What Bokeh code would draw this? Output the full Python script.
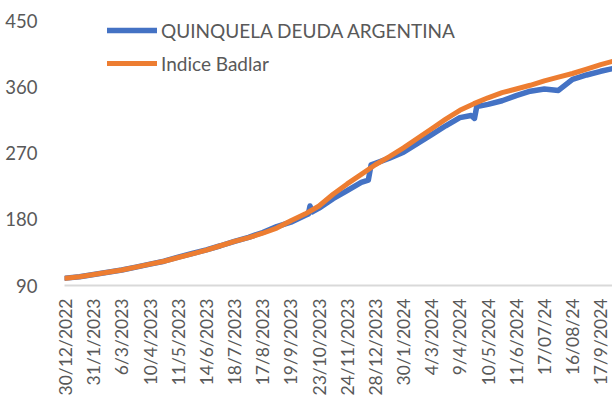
import math
from bokeh.plotting import figure
from bokeh.models import Range1d, FixedTicker, Legend, LegendItem
from bokeh.embed import file_html
from bokeh.resources import INLINE

# ---- data ----
tick_labels = ["30/12/2022", "31/1/2023", "6/3/2023", "10/4/2023", "11/5/2023",
               "14/6/2023", "18/7/2023", "17/8/2023", "19/9/2023", "23/10/2023",
               "24/11/2023", "28/12/2023", "30/1/2024", "4/3/2024", "9/4/2024",
               "10/5/2024", "11/6/2024", "17/07/24", "16/08/24", "17/9/2024"]
tick_pos = list(range(len(tick_labels)))

y_ticks = [90, 180, 270, 360, 450]

# position along the category axis, in label steps
badlar_x = [0, 0.5, 1, 1.5, 2, 2.5, 3, 3.5, 4, 4.5,
            5, 5.5, 6, 6.5, 7, 7.5, 8, 8.5, 9, 9.5,
            10, 10.5, 11, 11.5, 12, 12.5, 13, 13.5, 14, 14.5,
            15, 15.5, 16, 16.5, 17, 17.5, 18, 18.5, 19, 19.47]
badlar = [100, 102, 105, 108, 111, 115, 119, 123, 128, 133,
          138, 144, 150, 155, 161, 168, 178, 187, 198, 214,
          228, 241, 254, 265, 277, 290, 303, 316, 328, 337,
          345, 352, 357, 362, 368, 373, 378, 384, 390, 395]

quinq_x = [0, 0.5, 1, 1.5, 2, 2.5, 3, 3.5, 4, 4.5,
           5, 5.5, 6, 6.5, 7, 7.25, 7.5, 8, 8.5, 8.62,
           8.68, 8.76, 9, 9.5, 10, 10.5, 10.75, 10.85, 11, 11.5,
           12, 12.5, 13, 13.5, 14, 14.4, 14.52, 14.6, 15, 15.5,
           16, 16.5, 17, 17.5, 18, 18.5, 19, 19.47]
quinq = [100, 102, 105, 108, 111, 115, 119, 123, 128.5, 133.5,
         138.5, 144, 150, 155.5, 162, 166, 170, 176, 185, 187,
         198, 190, 195, 208, 219, 230, 233, 254, 256, 263,
         271, 283, 295, 307, 318, 321, 317, 333, 336, 341,
         348, 354, 357, 355, 370, 376, 381, 385]

FONT = "Lato"
TXT = "#595959"

p = figure(width=612, height=407, output_backend="svg", toolbar_location=None,
           x_range=Range1d(-0.036, 19.42), y_range=Range1d(90, 450),
           min_border_left=64, min_border_right=0, min_border_top=20,
           min_border_bottom=122)
p.outline_line_color = None
p.xgrid.visible = False
p.ygrid.visible = False
p.background_fill_color = "white"
p.border_fill_color = "white"

r1 = p.line(quinq_x, quinq, line_color="#4472C4", line_width=5.5,
            line_cap="round", line_join="round")
r2 = p.line(badlar_x, badlar, line_color="#ED7D31", line_width=5,
            line_cap="round", line_join="round")

xa = p.xaxis[0]
xa.ticker = FixedTicker(ticks=tick_pos)
xa.major_label_overrides = {i: lab for i, lab in zip(tick_pos, tick_labels)}
xa.major_label_orientation = math.pi / 2
xa.axis_line_color = "#D9D9D9"
xa.axis_line_width = 2
xa.major_tick_line_color = None
xa.minor_tick_line_color = None
xa.major_label_standoff = 7
xa.major_label_text_font = FONT
xa.major_label_text_font_size = "17.5px"
xa.major_label_text_color = TXT

ya = p.yaxis[0]
ya.ticker = FixedTicker(ticks=y_ticks)
ya.axis_line_color = None
ya.major_tick_line_color = None
ya.minor_tick_line_color = None
ya.major_label_standoff = 21
ya.major_label_text_font = FONT
ya.major_label_text_font_size = "18.5px"
ya.major_label_text_color = TXT

legend = Legend(items=[LegendItem(label="QUINQUELA DEUDA ARGENTINA", renderers=[r1]),
                       LegendItem(label="Indice Badlar", renderers=[r2])],
                location=(43, 208), orientation="vertical",
                glyph_width=50, glyph_height=28, label_height=28, spacing=5,
                padding=0, margin=0, label_standoff=4,
                border_line_color=None, background_fill_alpha=0,
                label_text_font=FONT, label_text_font_size="19px",
                label_text_color=TXT)
p.add_layout(legend)

open("out.html", "w").write(file_html(p, INLINE))
